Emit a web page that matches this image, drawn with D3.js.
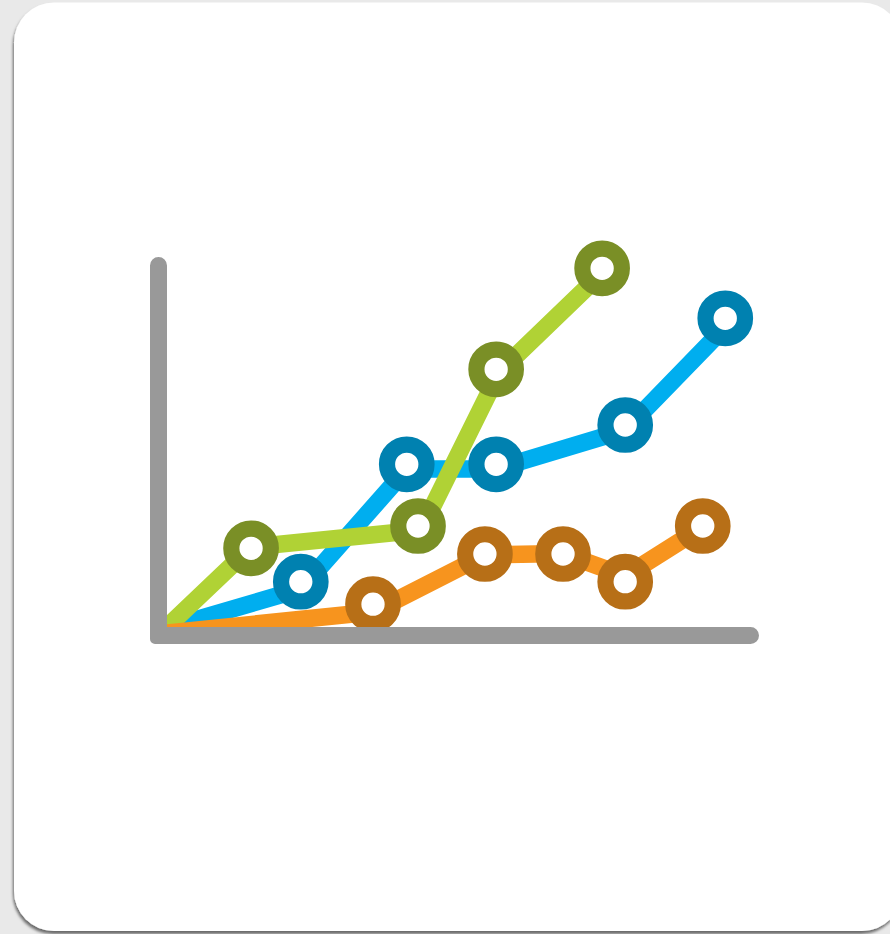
<!DOCTYPE html>
<html lang="en">
<head>
  <meta charset="UTF-8" />
  <title>Line chart icon</title>
  <script src="https://d3js.org/d3.v7.min.js"></script>
  <style>
    html, body { margin: 0; padding: 0; background: #e9e9e9; overflow: hidden; }
    svg { display: block; }
  </style>
</head>
<body>
  <svg id="chart" width="890" height="934"></svg>

  <script>
    // values, both axes run 0-100
    // the rings do not sit quite on the line vertices, so each series has both
    const greenX = [14.2, 42.4, 55.6, 73.5];
    const greenY = [21.27, 27.3, 69.65, 96.95];
    const greenLineX = [0, 14.2, 42.9, 56.1, 73.5];
    const greenLineY = [0, 21.6, 26.2, 68.9, 95.7];

    const blueX = [22.6, 40.5, 55.6, 77.4, 94.3];
    const blueY = [12.24, 43.97, 43.97, 54.6, 83.43];
    const blueLineX = [0, 22.6, 40.5, 55.6, 77.4, 94.3];
    const blueLineY = [-0.27, 10.27, 42.7, 42.7, 53.24, 81.08];

    const orangeX = [34.8, 53.7, 66.9, 77.4, 90.5];
    const orangeY = [6.16, 19.73, 19.73, 12.24, 27.3];
    const orangeLineX = [0, 34.8, 53.7, 66.9, 77.4, 90.5];
    const orangeLineY = [-1.62, 4.05, 19.46, 19.86, 13.78, 27.03];

    const series = [
      { xs: blueX, ys: blueY, lineXs: blueLineX, lineYs: blueLineY, line: "#00aeef", ring: "#0081b0" },
      { xs: greenX, ys: greenY, lineXs: greenLineX, lineYs: greenLineY, line: "#b0d235", ring: "#7a8f26" },
      { xs: orangeX, ys: orangeY, lineXs: orangeLineX, lineYs: orangeLineY, line: "#f7941e", ring: "#b76f17" }
    ];

    const svg = d3.select("#chart");

    const x = d3.scaleLinear().domain([0, 100]).range([167, 759]);
    const y = d3.scaleLinear().domain([0, 100]).range([627, 257]);

    const defs = svg.append("defs");
    const shadow = defs.append("filter").attr("id", "shadow")
      .attr("x", "-5%").attr("y", "-5%").attr("width", "110%").attr("height", "110%");
    shadow.append("feDropShadow")
      .attr("dx", -1).attr("dy", 3).attr("stdDeviation", 1.5)
      .attr("flood-color", "#000").attr("flood-opacity", 0.55);

    defs.append("clipPath").attr("id", "plot")
      .append("rect")
      .attr("x", x(0)).attr("y", 0)
      .attr("width", 890 - x(0)).attr("height", y(0));

    // white card behind everything
    svg.append("rect")
      .attr("x", 14).attr("y", 2.5)
      .attr("width", 888).attr("height", 928.5)
      .attr("rx", 40)
      .attr("fill", "#fff")
      .attr("filter", "url(#shadow)");

    const line = d3.line().x(d => x(d[0])).y(d => y(d[1]));

    const plot = svg.append("g").attr("clip-path", "url(#plot)");

    plot.selectAll("path")
      .data(series)
      .join("path")
      .attr("d", d => line(d3.zip(d.lineXs, d.lineYs)))
      .attr("fill", "none")
      .attr("stroke", d => d.line)
      .attr("stroke-width", 17.5)
      .attr("stroke-linejoin", "round");

    plot.selectAll("g")
      .data(series)
      .join("g")
      .selectAll("circle")
      .data(d => d3.zip(d.xs, d.ys).map(p => ({ p, ring: d.ring })))
      .join("circle")
      .attr("cx", d => x(d.p[0]))
      .attr("cy", d => y(d.p[1]))
      .attr("r", 19.75)
      .attr("fill", "#fff")
      .attr("stroke", d => d.ring)
      .attr("stroke-width", 16.2);

    // axes sit on top and cut off the lower rings
    // one L shape: round at both far ends, tighter at the corner
    const axisWidth = 17;
    const endR = axisWidth / 2;
    const cornerR = 5;
    const left = x(0) - axisWidth;
    const bottom = y(0) + axisWidth;
    const axisPath = d3.path();
    axisPath.moveTo(left, y(100) + endR);
    axisPath.arc(left + endR, y(100) + endR, endR, Math.PI, 0);
    axisPath.lineTo(x(0), y(0));
    axisPath.lineTo(x(100) - endR, y(0));
    axisPath.arc(x(100) - endR, y(0) + endR, endR, -Math.PI / 2, Math.PI / 2);
    axisPath.lineTo(left + cornerR, bottom);
    axisPath.arcTo(left, bottom, left, bottom - cornerR, cornerR);
    axisPath.closePath();

    svg.append("path")
      .attr("d", axisPath.toString())
      .attr("fill", "#999");
  </script>
</body>
</html>
